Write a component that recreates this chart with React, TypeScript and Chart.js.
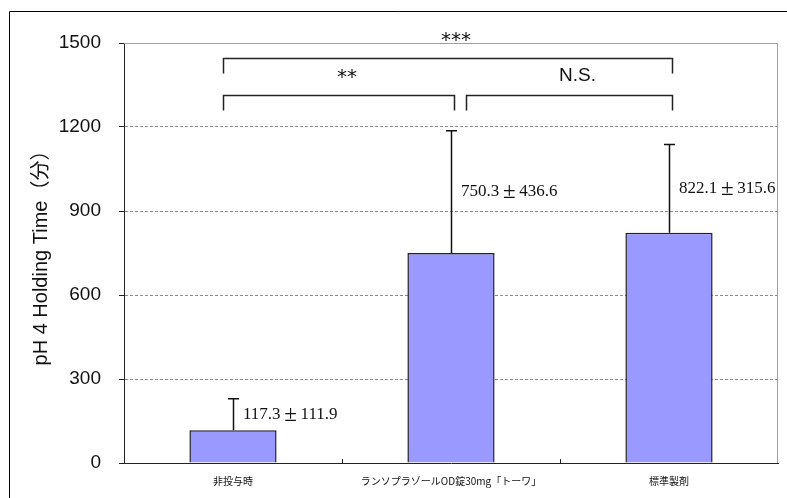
import { useEffect, useRef } from 'react';
import { Chart, registerables } from 'chart.js';

Chart.register(...registerables);

// groups on the x axis
const categories = ['非投与時', 'ランソプラゾールOD錠30mg「トーワ」', '標準製剤'];
// mean pH 4 holding time (min) and its standard deviation
const means = [117.3, 750.3, 822.1];
const sds = [111.9, 436.6, 315.6];
// y axis ticks
const yTicks = [0, 300, 600, 900, 1200, 1500];
// pairwise comparisons: group indices, result label, bracket row (0 = upper)
const compFrom = [0, 0, 1];
const compTo = [2, 1, 2];
const compLabels = ['***', '**', 'N.S.'];
const compRows = [0, 1, 1];

const SANS = "'Liberation Sans', Arial, 'Noto Sans CJK JP', sans-serif";
const SERIF = "'Liberation Serif', 'Times New Roman', serif";
const CJK = "'Noto Sans CJK JP', sans-serif";
const STAR = "'DejaVu Sans', sans-serif";

// bracket rows expressed on the value axis
const ROW_LEVELS = [1447, 1314];

const annotations = {
  id: 'annotations',
  beforeDraw(chart: any) {
    const { ctx, width, height } = chart;
    ctx.save();
    ctx.fillStyle = '#ffffff';
    ctx.fillRect(0, 0, width, height);
    ctx.restore();
  },
  afterDatasetsDraw(chart: any) {
    const { ctx, chartArea } = chart;
    const xs = chart.scales.x;
    const ys = chart.scales.y;
    const { left, right, top, bottom } = chartArea;
    const xc = (i: number) => xs.getPixelForValue(i);

    ctx.save();

    // light frame on the top and right of the plot area
    ctx.strokeStyle = '#a0a0a0';
    ctx.lineWidth = 1;
    ctx.beginPath();
    ctx.moveTo(left, top + 0.5);
    ctx.lineTo(right - 0.5, top + 0.5);
    ctx.lineTo(right - 0.5, bottom);
    ctx.stroke();

    // small inward ticks between categories
    ctx.strokeStyle = '#222';
    ctx.beginPath();
    for (let i = 0; i < categories.length - 1; i++) {
      const x = Math.round((xc(i) + xc(i + 1)) / 2) + 0.5;
      ctx.moveTo(x, bottom);
      ctx.lineTo(x, bottom - 4);
    }
    ctx.stroke();

    // error bars (upper side only)
    ctx.strokeStyle = '#111';
    ctx.lineWidth = 1.5;
    means.forEach((m, i) => {
      const x = Math.round(xc(i)) + 0.5;
      const y0 = ys.getPixelForValue(m);
      const y1 = ys.getPixelForValue(m + sds[i]);
      ctx.beginPath();
      ctx.moveTo(x, y0);
      ctx.lineTo(x, y1);
      ctx.moveTo(x - 5.5, y1);
      ctx.lineTo(x + 5.5, y1);
      ctx.stroke();
    });

    // mean ± SD labels (the ± sign sits in a wide, full-width slot)
    const fs = 17;
    ctx.fillStyle = '#111';
    ctx.textBaseline = 'middle';
    means.forEach((m, i) => {
      const a = m.toFixed(1);
      const b = sds[i].toFixed(1);
      let x = xc(i) + 10;
      const y = ys.getPixelForValue(m + sds[i] / 2);
      ctx.font = `${fs}px ${SERIF}`;
      ctx.textAlign = 'left';
      ctx.fillText(a, x, y);
      x += ctx.measureText(a).width;
      const slot = 20;
      ctx.font = `${Math.round(fs * 1.35)}px ${SERIF}`;
      ctx.textAlign = 'center';
      ctx.fillText('±', x + slot / 2, y);
      x += slot;
      ctx.font = `${fs}px ${SERIF}`;
      ctx.textAlign = 'left';
      ctx.fillText(b, x, y);
    });

    // significance brackets
    ctx.strokeStyle = '#222';
    ctx.lineWidth = 1.5;
    compFrom.forEach((f, k) => {
      const t = compTo[k];
      const row = compRows[k];
      const shared = compTo.some((tt, j) => j !== k && compRows[j] === row && tt === f);
      const x0 = Math.round(xc(f) + (shared ? 15 : -10)) + 0.5;
      const x1 = Math.round(xc(t) + 3) + 0.5;
      const y = Math.round(ys.getPixelForValue(ROW_LEVELS[row])) + 0.5;
      ctx.beginPath();
      ctx.moveTo(x0, y + 15);
      ctx.lineTo(x0, y);
      ctx.lineTo(x1, y);
      ctx.lineTo(x1, y + 15);
      ctx.stroke();

      const label = compLabels[k];
      const isStar = /^\*+$/.test(label);
      ctx.fillStyle = '#111';
      ctx.textAlign = 'center';
      if (isStar) {
        ctx.font = `20px ${STAR}`;
        ctx.textBaseline = 'alphabetic';
        ctx.fillText(label, (x0 + x1) / 2 + 8, y - 21.5 + 9);
      } else {
        ctx.font = `19px ${SANS}`;
        ctx.textBaseline = 'middle';
        ctx.fillText(label, (x0 + x1) / 2 + 8, y - 20);
      }
    });

    ctx.restore();
  },
  afterDraw(chart: any) {
    const { ctx, width, height } = chart;
    // outer frame
    ctx.save();
    ctx.strokeStyle = '#000';
    ctx.lineWidth = 1;
    ctx.beginPath();
    ctx.moveTo(9.5, height);
    ctx.lineTo(9.5, 11.5);
    ctx.lineTo(width, 11.5);
    ctx.stroke();
    ctx.restore();
  },
};

export default function App() {
  const ref = useRef<HTMLCanvasElement>(null);

  useEffect(() => {
    document.body.style.margin = '0';
    const chart = new Chart(ref.current as HTMLCanvasElement, {
      type: 'bar',
      data: {
        labels: categories,
        datasets: [
          {
            data: means,
            backgroundColor: '#9999ff',
            borderColor: '#1e1e2a',
            borderWidth: 1.5,
            borderSkipped: 'bottom',
            barPercentage: 0.4,
            categoryPercentage: 1.0,
          },
        ],
      },
      options: {
        animation: false,
        responsive: false,
        layout: { padding: { top: 43, right: 9, left: 0, bottom: 0 } },
        plugins: {
          legend: { display: false },
          tooltip: { enabled: false },
        },
        scales: {
          x: {
            grid: { display: false, drawTicks: false, offset: true },
            border: { display: true, color: '#222', width: 1 },
            ticks: {
              color: '#111',
              font: { family: CJK, size: 10 },
              padding: 12,
              maxRotation: 0,
              autoSkip: false,
            },
            afterFit: (s: any) => {
              s.height = 35;
            },
          },
          y: {
            min: 0,
            max: 1500,
            afterBuildTicks: (s: any) => {
              s.ticks = yTicks.map((v) => ({ value: v }));
            },
            grid: {
              color: (c: any) =>
                c.tick && (c.tick.value === 0 || c.tick.value === 1500) ? 'rgba(0,0,0,0)' : '#8a8a8a',
              tickColor: '#222',
              tickLength: 5,
              lineWidth: 1,
              tickBorderDash: [],
            },
            border: { display: true, color: '#222', width: 1, dash: [3, 2] },
            ticks: {
              color: '#111',
              font: { family: SANS, size: 19 },
              padding: 18,
              callback: (v: any) => String(v),
            },
            title: {
              display: true,
              text: 'pH 4 Holding Time（分）',
              color: '#111',
              font: { family: SANS, size: 20 },
              padding: { top: 29, bottom: 0 },
            },
            afterFit: (s: any) => {
              s.width = 124;
            },
          },
        },
      },
      plugins: [annotations],
    });
    return () => chart.destroy();
  }, []);

  return (
    <div style={{ width: 787, height: 498 }}>
      <canvas ref={ref} width={787} height={498} style={{ display: 'block' }} />
    </div>
  );
}
